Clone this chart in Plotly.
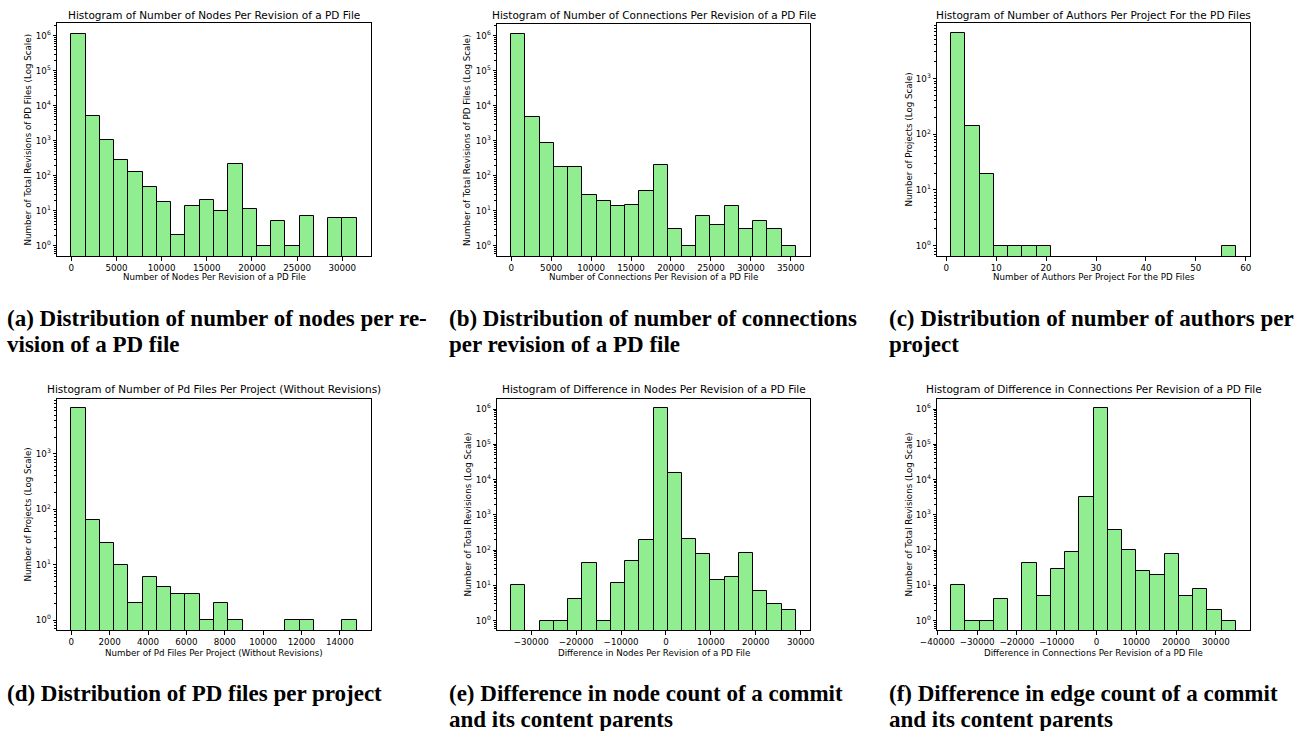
import numpy as np
import plotly.graph_objects as go

W, H = 1294, 731

# ---------------- data (histogram bin range + counts per bin) ----------------
nodes_lo, nodes_hi = 0, 31600
nodes_counts = [1140000, 5070, 1020, 280, 130, 47, 18, 2, 14, 20,
                10, 220, 11, 1, 5, 1, 7, 0, 6, 6]

conn_lo, conn_hi = 0, 35620
conn_counts = [1140000, 4640, 840, 173, 173, 29, 19, 14, 15, 37,
               197, 3, 1, 7, 4, 14, 3, 5, 3, 1]

authors_lo, authors_hi = 1, 58
authors_counts = [6430, 141, 19, 1, 1, 1, 1, 0, 0, 0,
                  0, 0, 0, 0, 0, 0, 0, 0, 0, 1]

files_lo, files_hi = 0, 14880
files_counts = [6680, 63, 25, 10, 2, 6, 4, 3, 3, 1,
                2, 1, 0, 0, 0, 1, 1, 0, 0, 1]

dnodes_lo, dnodes_hi = -34450, 28900
dnodes_counts = [10, 0, 1, 1, 4, 42, 1, 12, 50, 195,
                 1040000, 15800, 212, 76, 14, 17, 81, 7, 3, 2]

dconn_lo, dconn_hi = -36500, 35000
dconn_counts = [10, 1, 1, 4, 0, 44, 5, 29, 91, 3170,
                1040000, 383, 104, 25, 20, 78, 5, 8, 2, 1]

titles = [
    "Histogram of Number of Nodes Per Revision of a PD File",
    "Histogram of Number of Connections Per Revision of a PD File",
    "Histogram of Number of Authors Per Project For the PD Files",
    "Histogram of Number of Pd Files Per Project (Without Revisions)",
    "Histogram of Difference in Nodes Per Revision of a PD File",
    "Histogram of Difference in Connections Per Revision of a PD File",
]
xlabels = [
    "Number of Nodes Per Revision of a PD File",
    "Number of Connections Per Revision of a PD File",
    "Number of Authors Per Project For the PD Files",
    "Number of Pd Files Per Project (Without Revisions)",
    "Difference in Nodes Per Revision of a PD File",
    "Difference in Connections Per Revision of a PD File",
]
ylabels = [
    "Number of Total Revisions of PD Files (Log Scale)",
    "Number of Total Revisions of PD Files (Log Scale)",
    "Number of Projects (Log Scale)",
    "Number of Projects (Log Scale)",
    "Number of Total Revisions (Log Scale)",
    "Number of Total Revisions (Log Scale)",
]
xticks = [
    list(range(0, 30001, 5000)),
    list(range(0, 35001, 5000)),
    list(range(0, 61, 10)),
    list(range(0, 14001, 2000)),
    list(range(-30000, 30001, 10000)),
    list(range(-40000, 30001, 10000)),
]
captions = [
    ["(a) Distribution of number of nodes per re-", "vision of a PD file"],
    ["(b) Distribution of number of connections", "per revision of a PD file"],
    ["(c) Distribution of number of authors per", "project"],
    ["(d) Distribution of PD files per project"],
    ["(e) Difference in node count of a commit", "and its content parents"],
    ["(f) Difference in edge count of a commit", "and its content parents"],
]

hists = [
    (nodes_lo, nodes_hi, nodes_counts),
    (conn_lo, conn_hi, conn_counts),
    (authors_lo, authors_hi, authors_counts),
    (files_lo, files_hi, files_counts),
    (dnodes_lo, dnodes_hi, dnodes_counts),
    (dconn_lo, dconn_hi, dconn_counts),
]

# ---------------- layout geometry (pixels) ----------------
boxes = [
    (57, 371, 23, 256),
    (497, 810, 24, 256),
    (937, 1250, 23, 256),
    (57, 371, 399, 630),
    (497, 810, 399, 630),
    (937, 1250, 399, 630),
]
yranges = [
    (-0.294, 6.363),
    (-0.294, 6.334),
    (-0.185, 3.995),
    (-0.18, 3.99),
    (-0.264, 6.284),
    (-0.264, 6.284),
]
ymax_decade = [6, 6, 3, 3, 6, 6]
ylab_x = [27, 467, 908, 27, 467, 908]
cap_x = [5, 447, 887, 5, 447, 887]


def px(x):
    return x / W


def py(y):
    return 1 - y / H


def fmt_tick(v):
    return ("\u2212" + str(-v)) if v < 0 else str(v)


fig = go.Figure()

for i, (lo, hi, counts) in enumerate(hists):
    n = len(counts)
    edges = np.linspace(lo, hi, n + 1)
    centers = (edges[:-1] + edges[1:]) / 2
    width = edges[1] - edges[0]
    yvals = [c if c > 0 else None for c in counts]
    sfx = "" if i == 0 else str(i + 1)
    fig.add_trace(go.Bar(
        x=centers, y=yvals, width=width,
        xaxis="x" + sfx, yaxis="y" + sfx,
        marker=dict(color="#90EE90", line=dict(color="black", width=1)),
        showlegend=False, hoverinfo="skip",
    ))
    l, r, t, b = boxes[i]
    margin = (hi - lo) * 0.05
    tickfont = dict(family="DejaVu Sans", size=8.7, color="black")
    fig.layout["xaxis" + sfx] = dict(
        domain=[px(l), px(r)], anchor="y" + sfx, automargin=False,
        range=[lo - margin, hi + margin],
        tickmode="array", tickvals=xticks[i],
        ticktext=[fmt_tick(v) for v in xticks[i]],
        ticks="outside", ticklen=3.5, tickwidth=0.8,
        tickcolor="black", showline=True, mirror=True, linecolor="black",
        linewidth=1, showgrid=False, zeroline=False, tickfont=tickfont,
    )
    md = ymax_decade[i]
    major = [10 ** k for k in range(0, md + 1)]
    minor = [m * 10 ** k for k in range(-1, md + 1) for m in range(2, 10)]
    fig.layout["yaxis" + sfx] = dict(
        domain=[py(b), py(t)], anchor="x" + sfx, type="log", automargin=False,
        range=list(yranges[i]),
        tickmode="array", tickvals=major,
        ticktext=["10<sup>%d</sup>" % k for k in range(0, md + 1)],
        ticks="outside", ticklen=3.5, tickwidth=0.8, tickcolor="black",
        minor=dict(tickmode="array", tickvals=minor, ticks="outside",
                   ticklen=2, tickwidth=0.6, tickcolor="black", showgrid=False),
        showline=True, mirror=True, linecolor="black", linewidth=1,
        showgrid=False, zeroline=False, tickfont=tickfont,
    )

    title_y = 15 if i < 3 else 389
    fig.add_annotation(x=px((l + r) / 2), y=py(title_y), xref="paper", yref="paper",
                       text=titles[i], showarrow=False, xanchor="center", yanchor="middle",
                       font=dict(family="DejaVu Sans", size=10.5, color="black"))
    xl_y = 277 if i < 3 else 653
    fig.add_annotation(x=px((l + r) / 2), y=py(xl_y), xref="paper", yref="paper",
                       text=xlabels[i], showarrow=False, xanchor="center", yanchor="middle",
                       font=dict(family="DejaVu Sans", size=8.7, color="black"))
    fig.add_annotation(x=px(ylab_x[i]), y=py((t + b) / 2), xref="paper", yref="paper",
                       text=ylabels[i], showarrow=False, xanchor="center", yanchor="middle",
                       textangle=-90,
                       font=dict(family="DejaVu Sans", size=8.7, color="black"))
    base_y = 318 if i < 3 else 693
    for j, line in enumerate(captions[i]):
        fig.add_annotation(x=px(cap_x[i]), y=py(base_y + 26 * j), xref="paper", yref="paper",
                           text="<b>" + line + "</b>", showarrow=False,
                           xanchor="left", yanchor="middle",
                           font=dict(family="Liberation Serif", size=23, color="black"))

fig.update_layout(
    width=W, height=H, margin=dict(l=0, r=0, t=0, b=0, autoexpand=False),
    paper_bgcolor="white", plot_bgcolor="white", bargap=0,
)

fig.write_html("out.html", config={"displayModeBar": False},
               post_script="document.body.style.margin='0';")
